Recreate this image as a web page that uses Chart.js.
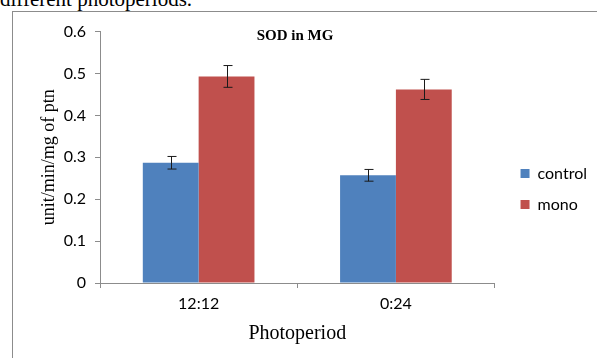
<!DOCTYPE html>
<html lang="en">
<head>
  <meta charset="UTF-8">
  <title>SOD in MG</title>
  <script src="https://cdn.jsdelivr.net/npm/chart.js"></script>
  <style>
    * { margin: 0; padding: 0; box-sizing: border-box; }
    body { width: 597px; height: 358px; background: #fff; position: relative; overflow: hidden; }
    .caption {
      position: absolute; left: 0; top: -13px;
      font-family: 'Liberation Serif', serif; font-size: 21px; color: #000; white-space: nowrap;
    }
    .frame {
      position: absolute; left: 12px; top: 11px; width: 600px; height: 360px;
      border-left: 1px solid #8c8c8c; border-top: 1px solid #8c8c8c;
    }
    .wrap { position: absolute; left: 13px; top: 13px; width: 584px; height: 345px; }
  </style>
</head>
<body>
  <div class="caption">different photoperiods.</div>
  <div class="frame"></div>
  <div class="wrap"><canvas id="sodChart"></canvas></div>

  <script>
    const categories = ['12:12', '0:24'];
    const controlValues = [0.287, 0.257];
    const controlErrors = [0.015, 0.014];
    const monoValues = [0.493, 0.462];
    const monoErrors = [0.026, 0.024];

    // error bars drawn through the chart's own scales
    const errorBars = {
      id: 'errorBars',
      afterDatasetsDraw(chart) {
        const ctx = chart.ctx;
        const y = chart.scales.y;
        ctx.save();
        ctx.strokeStyle = '#1a1a1a';
        ctx.lineWidth = 1;
        chart.data.datasets.forEach((ds, i) => {
          chart.getDatasetMeta(i).data.forEach((bar, j) => {
            const v = ds.data[j], e = ds.errors[j];
            const x = Math.round(bar.x) + 0.5;
            const top = y.getPixelForValue(v + e), bot = y.getPixelForValue(v - e);
            ctx.beginPath();
            ctx.moveTo(x, top); ctx.lineTo(x, bot);
            ctx.moveTo(x - 4, top); ctx.lineTo(x + 5, top);
            ctx.moveTo(x - 4, bot); ctx.lineTo(x + 5, bot);
            ctx.stroke();
          });
        });
        ctx.restore();
      }
    };

    const overlayTitle = {
      id: 'overlayTitle',
      afterDraw(chart) {
        const ctx = chart.ctx;
        ctx.save();
        ctx.font = 'bold 15px "Liberation Serif"';
        ctx.fillStyle = '#000';
        ctx.textAlign = 'center';
        ctx.textBaseline = 'middle';
        ctx.fillText('SOD in MG', 282, 23);
        ctx.restore();
      }
    };

    new Chart(document.getElementById('sodChart'), {
      type: 'bar',
      data: {
        labels: categories,
        datasets: [
          { label: 'control', data: controlValues, errors: controlErrors, backgroundColor: '#4f81bd' },
          { label: 'mono', data: monoValues, errors: monoErrors, backgroundColor: '#c0504d' }
        ]
      },
      options: {
        responsive: true,
        maintainAspectRatio: false,
        animation: false,
        layout: { padding: { top: 17, right: 0, left: 0, bottom: 10 } },
        categoryPercentage: 0.566,
        barPercentage: 1,
        plugins: {
          tooltip: { enabled: false },
          legend: {
            position: 'right',
            labels: {
              boxWidth: 9, boxHeight: 9, padding: 15,
              color: '#000',
              font: { family: 'Lato', size: 16 }
            }
          }
        },
        scales: {
          x: {
            afterFit(s) { s.height = 65; },
            grid: { offset: true, drawOnChartArea: false, drawTicks: true, tickLength: 5, color: '#8c8c8c' },
            border: { color: '#8c8c8c' },
            ticks: { color: '#000', font: { family: 'Lato', size: 16 }, padding: 6 },
            title: { display: true, text: 'Photoperiod', color: '#000', font: { family: 'Liberation Serif', size: 20 }, padding: { top: 0, bottom: 2 } }
          },
          y: {
            min: 0, max: 0.6,
            afterFit(s) { s.width = 87; },
            ticks: { stepSize: 0.1, color: '#000', font: { family: 'Lato', size: 16 }, padding: 9,
              callback: v => Number(v.toFixed(1)).toString() },
            grid: { drawOnChartArea: false, drawTicks: true, tickLength: 5, color: '#8c8c8c' },
            border: { color: '#8c8c8c' },
            title: { display: true, text: 'unit/min/mg of ptn', color: '#000', font: { family: 'Liberation Serif', size: 18 }, padding: { top: 25, bottom: 0 } }
          },
          // empty spacer between plot and legend
          gap: {
            type: 'linear', position: 'right', display: true,
            afterFit(s) { s.width = 11; },
            ticks: { display: false },
            grid: { display: false },
            border: { display: false }
          }
        }
      },
      plugins: [errorBars, overlayTitle]
    });
  </script>
</body>
</html>
